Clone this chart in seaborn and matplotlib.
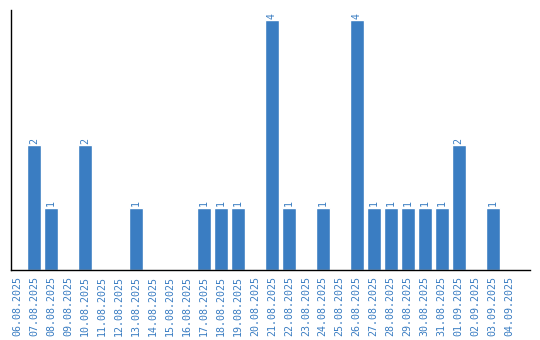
import matplotlib
matplotlib.use("Agg")
import matplotlib.pyplot as plt
import seaborn as sns
import pandas as pd

dates = ["06.08.2025", "07.08.2025", "08.08.2025", "09.08.2025", "10.08.2025",
         "11.08.2025", "12.08.2025", "13.08.2025", "14.08.2025", "15.08.2025",
         "16.08.2025", "17.08.2025", "18.08.2025", "19.08.2025", "20.08.2025",
         "21.08.2025", "22.08.2025", "23.08.2025", "24.08.2025", "25.08.2025",
         "26.08.2025", "27.08.2025", "28.08.2025", "29.08.2025", "30.08.2025",
         "31.08.2025", "01.09.2025", "02.09.2025", "03.09.2025", "04.09.2025"]
counts = [0, 2, 1, 0, 2, 0, 0, 1, 0, 0, 0, 1, 1, 1, 0,
          4, 1, 0, 1, 0, 4, 1, 1, 1, 1, 1, 2, 0, 1, 0]

df = pd.DataFrame({"date": dates, "count": counts})
blue = "#3a7dc2"

sns.set_style("white")
fig = plt.figure(figsize=(5.4, 3.4), dpi=100)
ax = fig.add_axes([11/540, 70/340, 519/540, 260/340])
sns.barplot(data=df, x="date", y="count", color=blue, saturation=1, width=0.82, ax=ax)

labels = [str(v) if v > 0 else "" for v in counts]
ax.bar_label(ax.containers[0], labels=labels, rotation=90, color=blue,
             fontsize=7.2, family="DejaVu Sans Mono", padding=1)

ax.set_xlim(-0.35, 29.2 + 1.0)
ax.set_ylim(0, 4.16)
ax.set_xlabel("")
ax.set_ylabel("")
ax.set_yticks([])
ax.tick_params(axis="x", length=0, pad=4)
for lbl in ax.get_xticklabels():
    lbl.set_rotation(90)
    lbl.set_color(blue)
    lbl.set_fontsize(7.2)
    lbl.set_family("DejaVu Sans Mono")
for s in ["top", "right"]:
    ax.spines[s].set_visible(False)
for s in ["left", "bottom"]:
    ax.spines[s].set_color("black")
    ax.spines[s].set_linewidth(1)

fig.savefig("out.png", dpi=100)
